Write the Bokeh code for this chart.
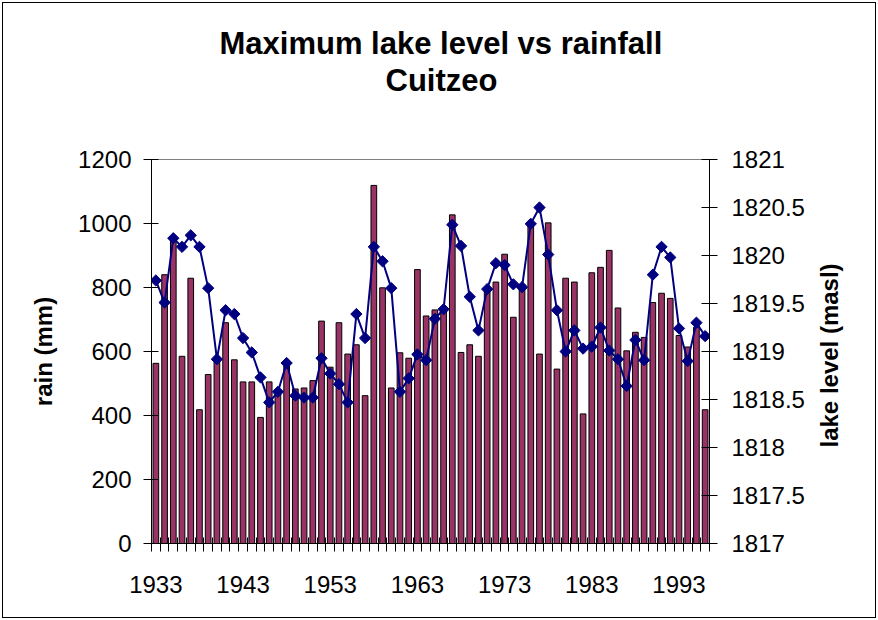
import math

from bokeh.embed import file_html
from bokeh.models import (ColumnDataSource, FixedTicker, LinearAxis, Range1d, Title)
from bokeh.plotting import figure
from bokeh.resources import INLINE

# ---- data -------------------------------------------------------------
years = list(range(1933, 1997))

rain_mm = [
    563, 840, 945, 585, 829, 418, 528, 580, 690, 574,   # 1933-1942
    505, 505, 394, 505, 470, 555, 483, 486, 509, 695,   # 1943-1952
    551, 690, 592, 621, 462, 1119, 799, 486, 596, 579,  # 1953-1962
    856, 711, 730, 735, 1027, 597, 621, 585, 790, 817,  # 1963-1972
    904, 707, 810, 1000, 592, 1002, 545, 829, 817, 405, # 1973-1982
    846, 863, 916, 736, 602, 660, 644, 753, 782, 766,   # 1983-1992
    650, 614, 676, 418,                                 # 1993-1996
]

lake_level_masl = [
    1819.74, 1819.51, 1820.18, 1820.09, 1820.21, 1820.09, 1819.66, 1818.92, 1819.43, 1819.39,
    1819.14, 1818.99, 1818.73, 1818.47, 1818.58, 1818.88, 1818.54, 1818.52, 1818.52, 1818.93,
    1818.77, 1818.66, 1818.47, 1819.39, 1819.14, 1820.09, 1819.94, 1819.66, 1818.58, 1818.72,
    1818.97, 1818.91, 1819.34, 1819.44, 1820.32, 1820.10, 1819.57, 1819.22, 1819.65, 1819.92,
    1819.90, 1819.70, 1819.67, 1820.33, 1820.50, 1820.01, 1819.43, 1819.00, 1819.22, 1819.03,
    1819.05, 1819.25, 1819.01, 1818.92, 1818.64, 1819.12, 1818.91, 1819.80, 1820.09, 1819.98,
    1819.24, 1818.90, 1819.30, 1819.16,
]

year_labels = [1933, 1943, 1953, 1963, 1973, 1983, 1993]
rain_ticks = [0, 200, 400, 600, 800, 1000, 1200]
level_ticks = [1817, 1817.5, 1818, 1818.5, 1819, 1819.5, 1820, 1820.5, 1821]
level_title = "lake level (masl)"

FONT = "Liberation Sans"
BAR_COLOR = "#993366"
LINE_COLOR = "#000080"

source = ColumnDataSource(dict(year=years, rain=rain_mm, level=lake_level_masl))

# ---- figure -----------------------------------------------------------
x_range = Range1d(years[0] - 0.5, years[-1] + 0.5)
y_range = Range1d(rain_ticks[0], rain_ticks[-1])

title_style = dict(align="left", vertical_align="bottom", standoff=0,
                   text_font=FONT, text_font_size="31px", text_font_style="bold",
                   text_color="black")
title_main = Title(text="Maximum lake level vs rainfall", offset=68, **title_style)
title_sub = Title(text="Cuitzeo", offset=234, **title_style)
# empty band between the two-line heading and the plot area
title_gap = Title(text=" ", text_font_size="1px", standoff=59)

p = figure(
    width=878, height=620,
    output_backend="svg", toolbar_location=None,
    x_range=x_range, y_range=y_range, title=title_main,
    min_border_left=151, min_border_right=169,
    min_border_top=159, min_border_bottom=77,
    background_fill_color="white", border_fill_color=None,
    outline_line_color="#808080", outline_line_width=1,
)
p.add_layout(title_gap, "above")
p.add_layout(title_sub, "above")
# chart area frame
p.styles = {"outline": "1.5px solid black", "outline-offset": "-3px"}
p.xgrid.visible = False
p.ygrid.visible = False
p.extra_y_ranges = {"level": Range1d(level_ticks[0], level_ticks[-1])}

# category axis: labels every ten years, tick marks between the years
xaxis = p.xaxis[0]
xaxis.ticker = FixedTicker(ticks=year_labels,
                           minor_ticks=[y - 0.5 for y in years] + [years[-1] + 0.5])
xaxis.major_tick_in = 0
xaxis.major_tick_out = 0
xaxis.minor_tick_in = 6
xaxis.minor_tick_out = 8
xaxis.minor_tick_line_color = "black"
xaxis.axis_line_color = "black"
xaxis.major_label_text_font = FONT
xaxis.major_label_text_font_size = "24px"
xaxis.major_label_text_color = "black"
xaxis.major_label_standoff = 24

# rainfall axis (left)
yaxis = p.yaxis[0]
yaxis.ticker = FixedTicker(ticks=rain_ticks)
yaxis.major_tick_in = 7
yaxis.major_tick_out = 8
yaxis.minor_tick_out = 0
yaxis.minor_tick_in = 0
yaxis.axis_line_color = "black"
yaxis.major_tick_line_color = "black"
yaxis.major_label_text_font = FONT
yaxis.major_label_text_font_size = "24px"
yaxis.major_label_text_color = "black"
yaxis.major_label_standoff = 12
yaxis.axis_label = "rain (mm)"
yaxis.axis_label_text_font = FONT
yaxis.axis_label_text_font_size = "24px"
yaxis.axis_label_text_font_style = "bold"
yaxis.axis_label_text_color = "black"
yaxis.axis_label_standoff = 18

# lake level axis (right)
raxis = LinearAxis(
    y_range_name="level",
    ticker=FixedTicker(ticks=level_ticks),
    major_label_overrides={t: f"{t:g}" for t in level_ticks},
    major_tick_in=8, major_tick_out=8,
    minor_tick_in=0, minor_tick_out=0,
    axis_line_color="black", major_tick_line_color="black",
    major_label_text_font=FONT, major_label_text_font_size="24px",
    major_label_text_color="black", major_label_standoff=14,
)
p.add_layout(raxis, "right")

# title of the lake level axis, reading upwards: a bare outer axis with a
# single rotated label whose text starts at the 1818 m level
title_start = level_ticks[2]
level_title_axis = LinearAxis(
    y_range_name="level",
    ticker=FixedTicker(ticks=[title_start]),
    major_label_overrides={title_start: level_title},
    major_label_orientation=math.pi / 2,
    axis_line_color=None, major_tick_line_color=None, minor_tick_line_color=None,
    major_tick_in=0, major_tick_out=0, minor_tick_in=0, minor_tick_out=0,
    major_label_text_font=FONT, major_label_text_font_size="24px",
    major_label_text_font_style="bold", major_label_text_color="black",
    major_label_standoff=22,
)
p.add_layout(level_title_axis, "right")

# ---- marks ------------------------------------------------------------
p.vbar(x="year", top="rain", bottom=0, width=0.65, source=source,
       fill_color=BAR_COLOR, line_color="black", line_width=1)

p.line(x="year", y="level", y_range_name="level", source=source,
       line_color=LINE_COLOR, line_width=2)
p.scatter(x="year", y="level", y_range_name="level", source=source,
          marker="square", angle=math.pi / 4, size=8,
          fill_color=LINE_COLOR, line_color=LINE_COLOR)

open("out.html", "w").write(file_html(p, INLINE))
